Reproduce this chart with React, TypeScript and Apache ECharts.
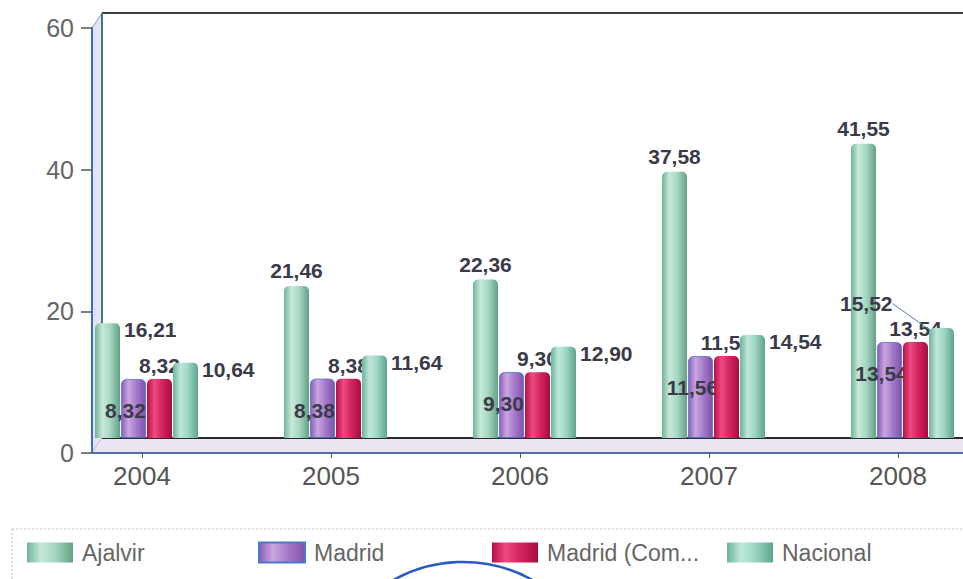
import React, { useEffect, useRef } from "react";
import * as echarts from "echarts";

const years = ["2004", "2005", "2006", "2007", "2008"];
const ajalvir = [16.21, 21.46, 22.36, 37.58, 41.55];
const madrid = [8.32, 8.38, 9.3, 11.56, 13.54];
const madridCom = [8.32, 8.38, 9.3, 11.56, 13.54];
const nacional = [10.64, 11.64, 12.9, 14.54, 15.52];
const seriesNames = ["Ajalvir", "Madrid", "Madrid (Comunidad)", "Nacional"];
const legendLefts = [27, 258, 492, 727];
const yTicks = { min: 0, max: 60, interval: 20 };

// 3D frame layout
const W = 963;
const FRONT_LEFT = 92;
const FRONT_TOP = 28;
const FRONT_BOTTOM = 453;
const DX = 10;
const DY = 15;
const BACK_LEFT = FRONT_LEFT + DX;
const BACK_TOP = FRONT_TOP - DY;
const BACK_BOTTOM = FRONT_BOTTOM - DY;
const CAT_W = 189;
const FIRST_TICK = 142;

const cyl = (edge: string, light: string, mid: string, edge2: string) =>
  new echarts.graphic.LinearGradient(0, 0, 1, 0, [
    { offset: 0, color: edge },
    { offset: 0.3, color: light },
    { offset: 0.6, color: mid },
    { offset: 1, color: edge2 },
  ]);

const fmt = (p: any) => Number(p.value).toFixed(2).replace(".", ",");

const labelBase = {
  show: true,
  fontFamily: "Liberation Sans",
  fontWeight: "bold",
  fontSize: 21,
  color: "#3a3a48",
  formatter: fmt,
};

export default function App() {
  const ref = useRef<HTMLDivElement>(null);
  useEffect(() => {
    if (!ref.current) return;
    const chart = echarts.init(ref.current, null, { renderer: "svg" });
    const barGridLeft = FIRST_TICK + 4.5 - CAT_W / 2;
    const labelGridLeft = FIRST_TICK - CAT_W / 2;
    const gridWidth = CAT_W * years.length;
    const barHeight = BACK_BOTTOM - BACK_TOP;

    const option: any = {
      animation: false,
      backgroundColor: "#ffffff",
      grid: [
        {
          left: barGridLeft,
          top: BACK_TOP,
          width: gridWidth,
          height: barHeight,
          outerBoundsMode: "none",
          containLabel: false,
        },
        {
          left: labelGridLeft,
          top: FRONT_TOP,
          width: gridWidth,
          height: FRONT_BOTTOM - FRONT_TOP,
          outerBoundsMode: "none",
          containLabel: false,
        },
        {
          left: FRONT_LEFT,
          top: FRONT_TOP,
          right: 0,
          height: FRONT_BOTTOM - FRONT_TOP,
          outerBoundsMode: "none",
          containLabel: false,
        },
      ],
      xAxis: [
        { type: "category", gridIndex: 0, data: years, show: false },
        {
          type: "category",
          gridIndex: 1,
          data: years,
          axisLine: { show: false },
          axisTick: { show: true, alignWithLabel: true, length: 5, lineStyle: { color: "#555" } },
          axisLabel: { fontFamily: "Liberation Sans", fontSize: 26, color: "#555", margin: 10 },
        },
        {
          type: "value",
          gridIndex: 2,
          min: 0,
          max: 1,
          axisLine: { show: true, lineStyle: { color: "#4b6fa8", width: 2 } },
          axisTick: { show: false },
          axisLabel: { show: false },
          splitLine: { show: false },
        },
      ],
      yAxis: [
        { type: "value", gridIndex: 0, ...yTicks, show: false },
        { type: "value", gridIndex: 1, ...yTicks, show: false },
        {
          type: "value",
          gridIndex: 2,
          ...yTicks,
          axisLine: { show: true, lineStyle: { color: "#3a6cc8", width: 2 } },
          axisTick: { show: true, length: 11, lineStyle: { color: "#555", width: 1.5 } },
          axisLabel: { fontFamily: "Liberation Sans", fontSize: 25, color: "#666", margin: 18 },
          splitLine: { show: false },
        },
      ],
      legend: seriesNames.map((name, i) => ({
        left: legendLefts[i],
        top: 541,
        padding: 0,
        icon: "rect",
        itemWidth: 46,
        itemHeight: 20,
        data: [name],
        textStyle: {
          fontFamily: "Liberation Sans",
          fontSize: 23,
          color: "#666",
          width: 155,
          overflow: "truncate",
          ellipsis: "...",
          padding: [0, 0, 0, 4],
        },
      })),
      graphic: [
        // left wall
        {
          type: "polygon",
          z: -1,
          shape: {
            points: [
              [FRONT_LEFT, FRONT_TOP],
              [BACK_LEFT, BACK_TOP],
              [BACK_LEFT, BACK_BOTTOM],
              [FRONT_LEFT, FRONT_BOTTOM],
            ],
          },
          style: { fill: "#e6e2f3", stroke: "#8aa0c8", lineWidth: 1 },
        },
        // floor
        {
          type: "polygon",
          z: -1,
          shape: {
            points: [
              [BACK_LEFT, BACK_BOTTOM],
              [W + 5, BACK_BOTTOM],
              [W + 5, FRONT_BOTTOM],
              [FRONT_LEFT, FRONT_BOTTOM],
            ],
          },
          style: { fill: "#ebe4f1", stroke: null },
        },
        // back wall top edge
        {
          type: "line",
          z: -1,
          shape: { x1: BACK_LEFT, y1: BACK_TOP, x2: W + 5, y2: BACK_TOP },
          style: { stroke: "#3d3d3d", lineWidth: 2 },
        },
        // back wall left edge
        {
          type: "line",
          z: -1,
          shape: { x1: BACK_LEFT, y1: BACK_TOP, x2: BACK_LEFT, y2: BACK_BOTTOM },
          style: { stroke: "#3b7f7a", lineWidth: 2 },
        },
        // back wall bottom edge
        {
          type: "line",
          z: -1,
          shape: { x1: BACK_LEFT, y1: BACK_BOTTOM, x2: W + 5, y2: BACK_BOTTOM },
          style: { stroke: "#2b2b2b", lineWidth: 2 },
        },
        // legend box
        {
          type: "rect",
          z: -1,
          shape: { x: 12, y: 529, width: W, height: 70 },
          style: { fill: "none", stroke: "#b9c6cc", lineWidth: 1.2, lineDash: [2, 2] },
        },
        // stamp arc
        {
          type: "circle",
          z: 10,
          shape: { cx: 463, cy: 705, r: 143 },
          style: { fill: "none", stroke: "#2a58c8", lineWidth: 2.5 },
        },
      ],
      series: [
        {
          name: seriesNames[0],
          type: "bar",
          xAxisIndex: 0,
          yAxisIndex: 0,
          z: 2,
          barWidth: 25,
          barGap: "4%",
          itemStyle: {
            color: cyl("#72b497", "#c6e9da", "#a6d8c2", "#649f86"),
            borderRadius: [5, 5, 0, 0],
          },
          label: { ...labelBase, position: "top", distance: 5 },
          data: ajalvir.map((v, i) =>
            i === 0 ? { value: v, label: { position: [29, -4] } } : v
          ),
        },
        {
          name: seriesNames[1],
          type: "bar",
          xAxisIndex: 0,
          yAxisIndex: 0,
          z: 3,
          barWidth: 25,
          barGap: "4%",
          itemStyle: {
            color: cyl("#8a5cb4", "#c9a6e0", "#a87ccc", "#7e52a8"),
            borderRadius: [5, 5, 0, 0],
            borderColor: "#4a78d0",
            borderWidth: 0.8,
          },
          label: { ...labelBase, position: "insideTop", offset: [-8, 16] },
          data: madrid,
        },
        {
          name: seriesNames[2],
          type: "bar",
          xAxisIndex: 0,
          yAxisIndex: 0,
          z: 4,
          barWidth: 25,
          barGap: "4%",
          itemStyle: {
            color: cyl("#b80f45", "#ec4a80", "#d42660", "#a80c3e"),
            borderRadius: [5, 5, 0, 0],
          },
          label: { ...labelBase, position: "top", distance: 3 },
          data: madridCom,
        },
        {
          name: seriesNames[3],
          type: "bar",
          xAxisIndex: 0,
          yAxisIndex: 0,
          z: 5,
          barWidth: 25,
          barGap: "4%",
          itemStyle: {
            color: cyl("#6cb39c", "#bfe7d9", "#9dd6c4", "#5fa48e"),
            borderRadius: [5, 5, 0, 0],
          },
          label: { ...labelBase, position: [29, -4] },
          labelLine: { show: false },
          data: nacional.map((v, i) =>
            i === nacional.length - 1
              ? {
                  value: v,
                  label: { position: [-89, -35] },
                  labelLine: { show: true, lineStyle: { color: "#5a78b0", width: 1 } },
                }
              : v
          ),
        },
      ],
    };
    chart.setOption(option);
    return () => chart.dispose();
  }, []);
  return (
    <div
      ref={ref}
      style={{ position: "fixed", left: 0, top: 0, width: 963, height: 579 }}
    />
  );
}
